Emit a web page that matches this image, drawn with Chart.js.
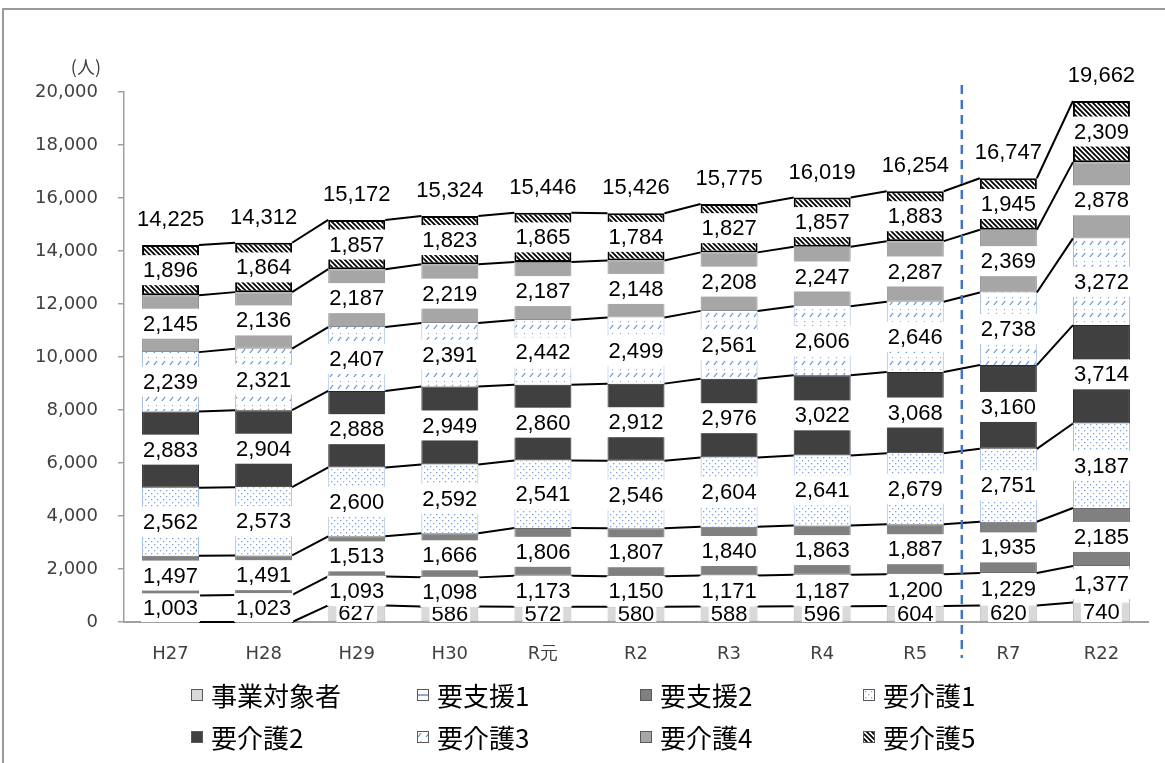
<!DOCTYPE html>
<html lang="ja">
<head>
<meta charset="UTF-8">
<title>要介護認定者数の推移</title>
<script src="https://cdn.jsdelivr.net/npm/chart.js"></script>
<style>
  html, body { margin: 0; padding: 0; background: #fff; }
  #wrap { width: 1165px; height: 763px; position: relative; }
</style>
</head>
<body>
<div id="wrap"><canvas id="grafico" width="1165" height="763"></canvas></div>

<script>
// ---- dados ----
const categorias = ['H27', 'H28', 'H29', 'H30', 'R元', 'R2', 'R3', 'R4', 'R5', 'R7', 'R22'];
const jigyoTaishosha = [null, null, 627, 586, 572, 580, 588, 596, 604, 620, 740];
const yoshien1 = [1003, 1023, 1093, 1098, 1173, 1150, 1171, 1187, 1200, 1229, 1377];
const yoshien2 = [1497, 1491, 1513, 1666, 1806, 1807, 1840, 1863, 1887, 1935, 2185];
const yokaigo1 = [2562, 2573, 2600, 2592, 2541, 2546, 2604, 2641, 2679, 2751, 3187];
const yokaigo2 = [2883, 2904, 2888, 2949, 2860, 2912, 2976, 3022, 3068, 3160, 3714];
const yokaigo3 = [2239, 2321, 2407, 2391, 2442, 2499, 2561, 2606, 2646, 2738, 3272];
const yokaigo4 = [2145, 2136, 2187, 2219, 2187, 2148, 2208, 2247, 2287, 2369, 2878];
const yokaigo5 = [1896, 1864, 1857, 1823, 1865, 1784, 1827, 1857, 1883, 1945, 2309];
const totais = [14225, 14312, 15172, 15324, 15446, 15426, 15775, 16019, 16254, 16747, 19662];
const yMax = 20000;
const yPasso = 2000;

const canvas = document.getElementById('grafico');
const ctx0 = canvas.getContext('2d');

// cria padrões de preenchimento (hachuras)
function padrao(w, h, desenha) {
    const c = document.createElement('canvas');
    c.width = w; c.height = h;
    const g = c.getContext('2d');
    g.fillStyle = '#fff';
    g.fillRect(0, 0, w, h);
    desenha(g);
    return ctx0.createPattern(c, 'repeat');
}

const azul = '#5f8fd2';

const pontos = padrao(6, 6, g => {
    g.fillStyle = '#7fa3d8';
    g.fillRect(1, 1, 1.3, 1.3);
    g.fillRect(4, 4, 1.3, 1.3);
});

const tracos = padrao(8, 12, g => {
    g.strokeStyle = azul;
    g.lineWidth = 1.2;
    g.beginPath();
    g.moveTo(2, 5); g.lineTo(5, 1);
    g.stroke();
    g.fillStyle = '#8fb0de';
    g.fillRect(4, 9, 1.2, 1.2);
});

const listras = padrao(5, 5, g => {
    g.strokeStyle = '#000';
    g.lineWidth = 1.8;
    g.beginPath();
    g.moveTo(-1, -1); g.lineTo(6, 6);
    g.moveTo(-1, 4); g.lineTo(1, 6);
    g.moveTo(4, -1); g.lineTo(6, 1);
    g.stroke();
});

const series = [
    { label: '事業対象者', data: jigyoTaishosha, fill: '#d9d9d9', borda: '#bfbfbf', bw: 1 },
    { label: '要支援1', data: yoshien1, fill: '#ffffff', borda: '#8fb0de', bw: { left: 1, right: 1, top: 0, bottom: 0 } },
    { label: '要支援2', data: yoshien2, fill: '#808080', borda: '#6b6b6b', bw: 1 },
    { label: '要介護1', data: yokaigo1, fill: pontos, borda: '#9db9e2', bw: { left: 1, right: 1, top: 0, bottom: 0 } },
    { label: '要介護2', data: yokaigo2, fill: '#404040', borda: '#262626', bw: 1 },
    { label: '要介護3', data: yokaigo3, fill: tracos, borda: '#9db9e2', bw: { left: 1, right: 1, top: 0, bottom: 0 } },
    { label: '要介護4', data: yokaigo4, fill: '#a6a6a6', borda: '#8c8c8c', bw: 1 },
    { label: '要介護5', data: yokaigo5, fill: listras, borda: '#000000', bw: 2 }
];

const fmt = v => v.toLocaleString('en-US');
const fonteRotulo = '22px "Liberation Sans", Arial, sans-serif';
const fonteEixo = { family: '"DejaVu Sans", sans-serif', size: 18 };

// moldura cinza, linhas de ligação, rótulos, linha tracejada e legenda
const extras = {
    id: 'extras',
    beforeDraw(chart) {
        const c = chart.ctx;
        c.save();
        c.strokeStyle = '#9a9a9a';
        c.lineWidth = 2;
        c.beginPath();
        c.moveTo(3, chart.height);
        c.lineTo(3, 9);
        c.lineTo(chart.width, 9);
        c.stroke();
        c.restore();
    },
    afterDatasetsDraw(chart) {
        const c = chart.ctx;
        const x = chart.scales.x;
        const y = chart.scales.y;
        const area = chart.chartArea;
        const larg = chart.getDatasetMeta(1).data[0].width;

        // linhas entre as barras
        c.save();
        c.strokeStyle = '#000';
        c.lineWidth = 2;
        const acum = categorias.map(() => 0);
        series.forEach(s => {
            const prox = acum.map((a, i) => a + (s.data[i] || 0));
            c.beginPath();
            for (let i = 0; i < categorias.length - 1; i++) {
                c.moveTo(x.getPixelForValue(i) + larg / 2, y.getPixelForValue(prox[i]));
                c.lineTo(x.getPixelForValue(i + 1) - larg / 2, y.getPixelForValue(prox[i + 1]));
            }
            c.stroke();
            prox.forEach((v, i) => acum[i] = v);
        });
        c.restore();

        // rótulos dentro das barras
        c.save();
        c.beginPath();
        c.rect(area.left, area.top - 40, area.right - area.left, area.bottom - area.top + 40);
        c.clip();
        c.font = fonteRotulo;
        c.textAlign = 'center';
        c.textBaseline = 'middle';
        series.forEach((s, k) => {
            const meta = chart.getDatasetMeta(k);
            meta.data.forEach((el, i) => {
                const v = s.data[i];
                if (v == null) return;
                const cy = (el.y + el.base) / 2;
                const txt = fmt(v);
                const tw = c.measureText(txt).width;
                c.fillStyle = '#fff';
                c.fillRect(el.x - tw / 2 - 2, cy - 15, tw + 4, 30);
                c.fillStyle = '#000';
                c.fillText(txt, el.x, cy + 1);
            });
        });
        c.restore();

        // totais acima das barras
        c.save();
        c.font = fonteRotulo;
        c.textAlign = 'center';
        c.textBaseline = 'middle';
        c.fillStyle = '#000';
        totais.forEach((t, i) => {
            c.fillText(fmt(t), x.getPixelForValue(i), y.getPixelForValue(t) - 25);
        });
        c.restore();

        // linha tracejada entre R5 e R7
        const xs = (x.getPixelForValue(8) + x.getPixelForValue(9)) / 2;
        c.save();
        c.strokeStyle = '#3f76c4';
        c.lineWidth = 2.5;
        c.setLineDash([9, 6]);
        c.beginPath();
        c.moveTo(xs, area.top - 7);
        c.lineTo(xs, area.bottom + 36);
        c.stroke();
        c.restore();
    },
    afterDraw(chart) {
        const c = chart.ctx;
        // unidade do eixo
        c.save();
        c.font = '18px "Noto Sans CJK JP", sans-serif';
        c.fillStyle = '#404040';
        c.textAlign = 'right';
        c.textBaseline = 'middle';
        c.fillText('(人)', 101, 67);
        c.restore();

        // legenda em 2 linhas x 4 colunas
        const colX = [191, 417, 640, 863];
        const rowY = [695, 737];
        c.save();
        c.font = '26px "Noto Sans CJK JP", sans-serif';
        c.textBaseline = 'middle';
        c.textAlign = 'left';
        series.forEach((s, k) => {
            const bx = colX[k % 4];
            const by = rowY[Math.floor(k / 4)];
            c.fillStyle = s.fill;
            c.fillRect(bx, by - 6, 12, 12);
            if (k === 1) {
                c.strokeStyle = azul;
                c.lineWidth = 1.5;
                c.beginPath();
                c.moveTo(bx + 1, by); c.lineTo(bx + 11, by);
                c.stroke();
            }
            c.strokeStyle = '#595959';
            c.lineWidth = 1;
            c.strokeRect(bx + 0.5, by - 5.5, 11, 11);
            c.fillStyle = '#000';
            c.fillText(s.label, bx + 20, by + 1);
        });
        c.restore();
    }
};

new Chart(canvas, {
    type: 'bar',
    data: {
        labels: categorias,
        datasets: series.map(s => ({
            label: s.label,
            data: s.data,
            backgroundColor: s.fill,
            borderColor: s.borda,
            borderWidth: s.bw,
            borderSkipped: false,
            categoryPercentage: 1,
            barPercentage: 0.612
        }))
    },
    options: {
        responsive: false,
        animation: false,
        layout: { padding: { left: 0, right: 17, top: 92, bottom: 101 } },
        plugins: {
            legend: { display: false },
            tooltip: { enabled: false }
        },
        scales: {
            x: {
                stacked: true,
                grid: { display: false },
                border: { display: true, color: '#a0a0a0', width: 2 },
                ticks: {
                    color: '#404040',
                    font: fonteEixo,
                    padding: 14
                },
                afterFit(scale) { scale.height = 40; }
            },
            y: {
                stacked: true,
                min: 0,
                max: yMax,
                grid: { drawOnChartArea: false, drawTicks: true, tickLength: 6, color: '#a0a0a0', lineWidth: 1.5 },
                border: { display: true, color: '#a0a0a0', width: 1.5 },
                ticks: {
                    stepSize: yPasso,
                    color: '#404040',
                    padding: 20,
                    font: fonteEixo,
                    callback: v => fmt(v)
                },
                afterFit(scale) { scale.width = 124; }
            }
        }
    },
    plugins: [extras]
});
</script>
</body>
</html>
